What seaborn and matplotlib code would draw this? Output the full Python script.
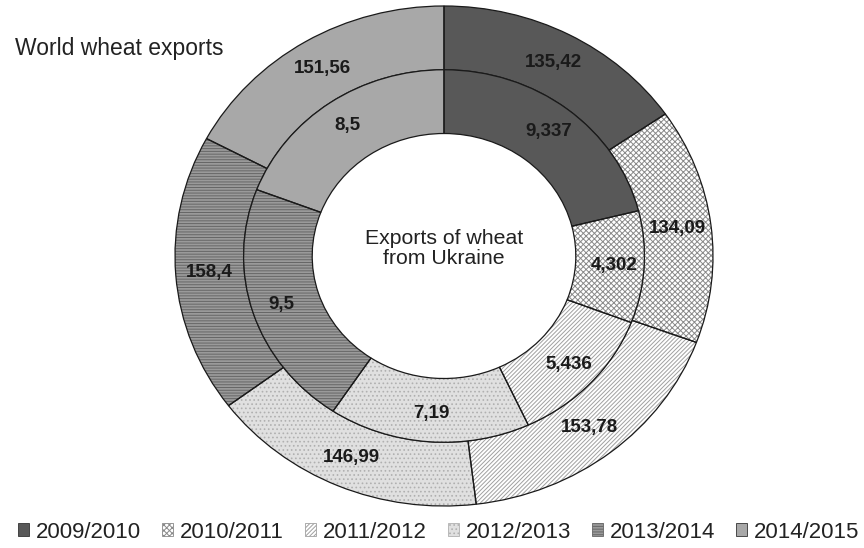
import matplotlib
matplotlib.use("Agg")
import matplotlib.pyplot as plt
from matplotlib.patches import Patch
import seaborn as sns

sns.set_theme(style="white")
plt.rcParams['font.family'] = ['Liberation Sans', 'DejaVu Sans']
plt.rcParams['hatch.linewidth'] = 0.7

seasons = ["2009/2010", "2010/2011", "2011/2012", "2012/2013", "2013/2014", "2014/2015"]
world_exports = [135.42, 134.09, 153.78, 146.99, 158.4, 151.56]
ukraine_exports = [9.337, 4.302, 5.436, 7.19, 9.5, 8.5]
world_labels = ["135,42", "134,09", "153,78", "146,99", "158,4", "151,56"]
ukraine_labels = ["9,337", "4,302", "5,436", "7,19", "9,5", "8,5"]

face_colors = ["#585858", "#ffffff", "#ffffff", "#e0e0e0", "#9a9a9a", "#a8a8a8"]
hatches = [None, "xxxxxx", "////////", "....", "------", None]
hatch_colors = ["#585858", "#8a8a8a", "#a0a0a0", "#b0b0b0", "#666666", "#a8a8a8"]

W, H = 864, 548
fig = plt.figure(figsize=(W / 100, H / 100), dpi=100)
cx, cy, rx, ry = 444, 256, 269, 250
ax = fig.add_axes([(cx - rx) / W, (H - cy - ry) / H, 2 * rx / W, 2 * ry / H])

R_OUT, R_MID, R_IN = 1.0, 0.745, 0.49


def ring(values, labels, radius, width, pctdist):
    it = iter(labels)
    # filled/hatched layer
    wedges, _, texts = ax.pie(values, radius=radius, startangle=90, counterclock=False,
                              colors=face_colors, hatch=[h or "" for h in hatches],
                              wedgeprops=dict(width=width, linewidth=0),
                              autopct=lambda p: next(it), pctdistance=pctdist,
                              textprops=dict(fontsize=13.5, fontweight="bold", color="#1a1a1a"))
    for w, hc in zip(wedges, hatch_colors):
        w.set_edgecolor(hc)
        w.set_linewidth(0)
    # outline layer
    ax.pie(values, radius=radius, startangle=90, counterclock=False,
           wedgeprops=dict(width=width, fill=False, edgecolor="#1a1a1a", linewidth=0.9))
    return wedges


ring(world_exports, world_labels, R_OUT, R_OUT - R_MID, 0.875)
ring(ukraine_exports, ukraine_labels, R_MID, R_MID - R_IN, 0.85)

ax.set_xlim(-1, 1)
ax.set_ylim(-1, 1)
ax.set_aspect("auto")
ax.axis("off")

ax.text(0, 0.03, "Exports of wheat\nfrom Ukraine", ha="center", va="center",
        fontsize=15.3, color="#222222", linespacing=1.05)
fig.text(15 / W, 1 - 48 / H, "World wheat exports", ha="left", va="center",
         fontsize=16.5, color="#222222")

handles = [Patch(facecolor=fc, hatch=h, edgecolor=hc if h else "#333333", linewidth=0.6)
           for fc, h, hc in zip(face_colors, hatches, hatch_colors)]
fig.legend(handles, seasons, loc="center", bbox_to_anchor=(0.508, 1 - 532 / H), ncol=6,
           frameon=False, fontsize=16, handlelength=0.5, handleheight=0.5,
           handletextpad=0.3, columnspacing=0.95, labelcolor="#222222",
           borderpad=0.1, borderaxespad=0.0)

fig.savefig("out.png", dpi=100, facecolor="white")
